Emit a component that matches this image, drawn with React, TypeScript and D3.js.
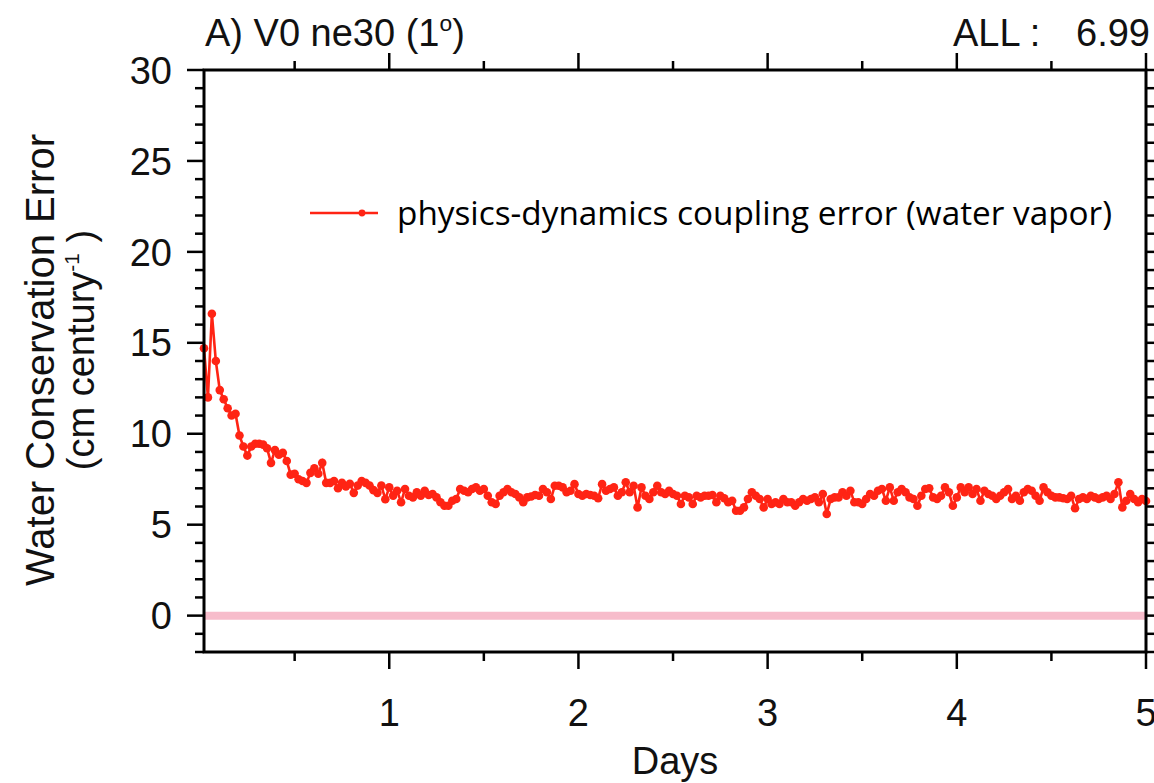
import React from "react";
import * as d3 from "d3";

// ---- data ----
const day0Values = [14.7, 12.0, 16.6, 14.0, 12.4, 11.9, 11.4, 11.0, 11.1, 9.9, 9.3, 8.8, 9.3, 9.45, 9.45, 9.4, 9.2, 8.4, 9.1, 8.85, 8.95, 8.5, 7.75, 7.8, 7.5, 7.4, 7.3, 7.85, 8.1, 7.8, 8.4, 7.3, 7.3, 7.4, 7.0, 7.3, 7.1, 7.25, 6.75, 7.15, 7.4, 7.3, 7.15, 6.9, 6.75, 7.15, 6.4];
const day1Values = [7.05, 6.6, 6.87, 6.23, 6.96, 6.59, 6.5, 6.78, 6.59, 6.87, 6.63, 6.69, 6.5, 6.23, 6.04, 6.04, 6.32, 6.41, 6.96, 6.87, 6.78, 6.96, 7.05, 6.87, 6.96, 6.59, 6.23, 6.14, 6.59, 6.78, 6.96, 6.78, 6.69, 6.5, 6.23, 6.5, 6.55, 6.63, 6.59, 6.96, 6.78, 6.41, 7.14, 7.14, 7.05, 6.78, 6.87, 7.23, 6.69, 6.59];
const day2Values = [6.69, 6.63, 6.59, 6.45, 7.23, 6.87, 6.96, 7.05, 6.59, 6.78, 7.33, 6.78, 7.14, 5.95, 7.05, 6.59, 6.41, 6.78, 7.14, 6.78, 6.69, 6.87, 6.69, 6.59, 6.14, 6.59, 6.5, 6.14, 6.59, 6.5, 6.59, 6.59, 6.63, 6.23, 6.59, 6.45, 6.23, 6.32, 5.77, 5.77, 5.95, 6.41, 6.78, 6.59, 6.41, 5.95, 6.41, 6.14];
const day3Values = [6.23, 6.14, 6.41, 6.23, 6.23, 6.04, 6.23, 6.41, 6.32, 6.41, 6.5, 6.23, 6.69, 5.59, 6.41, 6.5, 6.5, 6.78, 6.59, 6.87, 6.23, 6.23, 6.14, 6.41, 6.69, 6.59, 6.87, 6.96, 6.32, 7.05, 6.32, 6.78, 6.96, 6.78, 6.5, 6.41, 6.04, 6.59, 6.96, 7.0, 6.5, 6.41, 6.59, 7.05, 6.78, 6.04, 6.5, 7.05];
const day4Values = [6.78, 7.05, 6.69, 6.96, 6.32, 6.87, 6.69, 6.59, 6.41, 6.59, 6.78, 6.96, 6.41, 6.59, 6.32, 6.78, 6.96, 6.87, 6.59, 6.32, 7.05, 6.78, 6.59, 6.5, 6.5, 6.45, 6.41, 6.59, 5.9, 6.41, 6.5, 6.41, 6.59, 6.5, 6.41, 6.5, 6.59, 6.41, 6.69, 7.33, 5.95, 6.32, 6.69, 6.41, 6.23, 6.41, 6.3];

const stepsPerDay = 48;
const errorValues = [...day0Values, ...day1Values, ...day2Values, ...day3Values, ...day4Values];
const timeDays = errorValues.map((_, i) => (i + 1) / stepsPerDay);

const xMajorTicks = [1, 2, 3, 4, 5];
const xMinorTicks = [0.5, 1.5, 2.5, 3.5, 4.5];
const yMajorTicks = [0, 5, 10, 15, 20, 25, 30];
const yMinorTicks = d3.range(-2, 31, 1);
const referenceValue = 0;

const titleText = "A) V0 ne30 (1";
const allLabel = "ALL :";
const allValue = "6.99";
const legendLabel = "physics-dynamics coupling error (water vapor)";
const xTitle = "Days";
const yTitle1 = "Water Conservation Error";

export default function App() {
  const W = 1154, H = 783;
  const left = 204, right = 1146, top = 70, bottom = 652;
  const x = d3.scaleLinear().domain([1 / 48, 5]).range([left, right]);
  const y = d3.scaleLinear().domain([-2, 30]).range([bottom, top]);
  const pts = errorValues.map((v, i) => [timeDays[i], v] as [number, number]);
  const line = d3.line<[number, number]>().x(d => x(d[0])).y(d => y(d[1]));
  const red = "#ff2414";
  const font = "'Liberation Sans', Arial, Helvetica, sans-serif";
  const fs = 38;
  const majorLen = 17, minorLen = 9;

  return (
    <div style={{ position: "absolute", left: 0, top: 0 }}>
      <svg width={W} height={H} style={{ display: "block", background: "#fff" }}>
        {/* reference zero line */}
        <line x1={left} x2={right} y1={y(referenceValue)} y2={y(referenceValue)} stroke="#f7bccb" strokeWidth={8} />
        {/* series */}
        <path d={line(pts) || ""} fill="none" stroke={red} strokeWidth={2.6} />
        {pts.map((p, i) => (
          <circle key={i} cx={x(p[0])} cy={y(p[1])} r={4.3} fill={red} />
        ))}
        {/* frame */}
        <rect x={left} y={top} width={right - left} height={bottom - top} fill="none" stroke="#000" strokeWidth={3} />
        {/* y ticks left & right */}
        {yMinorTicks.map(v => {
          const major = yMajorTicks.includes(v);
          const len = major ? majorLen : minorLen;
          return (
            <g key={"y" + v}>
              <line x1={left - len} x2={left} y1={y(v)} y2={y(v)} stroke="#000" strokeWidth={2.5} />
              <line x1={right} x2={right + len} y1={y(v)} y2={y(v)} stroke="#000" strokeWidth={2.5} />
            </g>
          );
        })}
        {yMajorTicks.map(v => (
          <text key={"yl" + v} x={172} y={y(v)} dy="0.36em" textAnchor="end" fontFamily={font} fontSize={fs} fill="#111">
            {v}
          </text>
        ))}
        {/* x ticks bottom & top */}
        {xMajorTicks.map(v => (
          <g key={"x" + v}>
            <line x1={x(v)} x2={x(v)} y1={bottom} y2={bottom + majorLen} stroke="#000" strokeWidth={2.5} />
            <line x1={x(v)} x2={x(v)} y1={top} y2={top - majorLen} stroke="#000" strokeWidth={2.5} />
            <text x={x(v)} y={726} textAnchor="middle" fontFamily={font} fontSize={fs} fill="#111">{v}</text>
          </g>
        ))}
        {xMinorTicks.map(v => (
          <g key={"xm" + v}>
            <line x1={x(v)} x2={x(v)} y1={bottom} y2={bottom + minorLen} stroke="#000" strokeWidth={2.5} />
            <line x1={x(v)} x2={x(v)} y1={top} y2={top - minorLen} stroke="#000" strokeWidth={2.5} />
          </g>
        ))}
        {/* axis titles */}
        <text x={(left + right) / 2} y={774} textAnchor="middle" fontFamily={font} fontSize={fs} fill="#111">{xTitle}</text>
        <text transform={`translate(54, ${360}) rotate(-90)`} textAnchor="middle" fontFamily={font} fontSize={40} fill="#111">{yTitle1}</text>
        <text transform={`translate(94, ${350}) rotate(-90)`} textAnchor="middle" fontFamily={font} fontSize={fs} fill="#111">
          (cm century<tspan fontSize={fs * 0.55} dy={-15}>-1</tspan><tspan dy={15}> )</tspan>
        </text>
        {/* titles */}
        <text x={205} y={46} fontFamily={font} fontSize={fs} fill="#111">
          {titleText}<tspan fontSize={fs * 0.6} dy={-15}>o</tspan><tspan dy={15}>)</tspan>
        </text>
        <text x={953} y={46} fontFamily={font} fontSize={fs} fill="#111">{allLabel}</text>
        <text x={1150} y={46} textAnchor="end" fontFamily={font} fontSize={fs} fill="#111">{allValue}</text>
        {/* legend */}
        <line x1={310} x2={378} y1={213} y2={213} stroke={red} strokeWidth={2.4} />
        <circle cx={362} cy={213} r={3.4} fill={red} />
        <text x={397} y={225} fontFamily="'Open Sans', 'Noto Sans', sans-serif" fontSize={32} textLength={715} lengthAdjust="spacingAndGlyphs" fill="#000">{legendLabel}</text>
      </svg>
    </div>
  );
}
